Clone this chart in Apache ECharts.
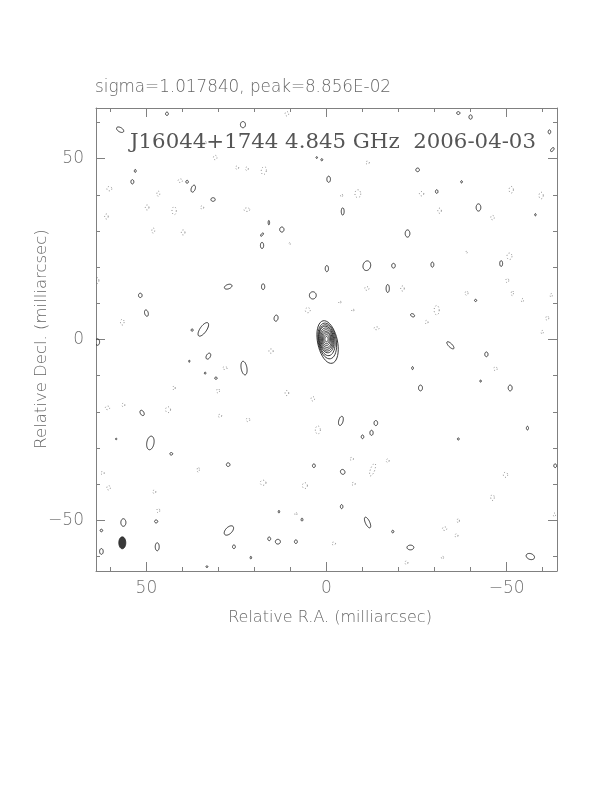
<!DOCTYPE html>
<html><head><meta charset="utf-8">
<script src="https://cdn.jsdelivr.net/npm/echarts@6/dist/echarts.min.js"></script>
<style>html,body{margin:0;padding:0;background:#fff}#c{width:612px;height:792px}</style>
</head><body><div id="c"></div>
<script>
const headerText = 'sigma=1.017840, peak=8.856E-02';
const titleText = 'J16044+1744 4.845 GHz  2006-04-03';
const xName = 'Relative R.A. (milliarcsec)';
const yName = 'Relative Decl. (milliarcsec)';
const axisRange = [-64, 64];
const minorTicks = [-60,-50,-40,-30,-20,-10,0,10,20,30,40,50,60];
const majorTicks = [-50,0,50];
const tickLabels = [-50,0,50];

// [x (mas), y (mas), semi-axis x (mas), semi-axis y (mas), tilt (deg)]
const coreContours = [
 [-0.3,-0.7,2.75,6.0,-12],[-0.2,-0.4,2.5,5.0,-10],[-0.1,-0.2,2.25,4.3,-8],
 [0,0,2.05,3.7,-8],[0,0,1.85,3.2,-6],[0,0,1.6,2.7,-5],[0,0,1.35,2.2,-5],
 [0,0.1,1.1,1.75,0],[0,0.1,0.8,1.25,0],[0,0.1,0.45,0.75,0]
];
const positiveContours = [
 [57.3,58.0,1.1,0.6,30],[44.3,62.4,0.4,0.45,0],[23.2,59.4,0.7,0.85,0],[53.1,46.6,0.25,0.4,0],
 [53.9,43.6,0.4,0.6,0],[38.7,43.6,0.35,0.4,0],[37.0,41.7,0.55,1.0,20],[31.5,38.7,0.6,0.5,0],
 [16.0,32.3,0.2,0.6,0],[12.4,30.4,0.6,0.7,0],[17.9,29.0,0.25,0.55,40],[17.9,26.0,0.45,0.85,0],
 [-0.1,19.6,0.45,0.85,0],[27.3,14.6,1.1,0.6,-20],[17.6,14.6,0.45,0.8,0],[51.7,12.2,0.5,0.6,0],
 [3.8,12.2,0.95,1.0,0],[50.0,7.3,0.5,0.9,-15],[14.0,5.9,0.55,0.85,10],[34.2,2.8,0.9,2.2,35],
 [37.3,2.6,0.3,0.3,0],[-0.6,44.3,0.5,0.85,0],[2.7,50.3,0.2,0.25,0],[1.3,49.7,0.25,0.3,0],
 [-36.6,62.6,0.45,0.4,0],[-40.0,61.5,0.45,0.6,0],[-61.9,57.4,0.35,0.55,0],[-62.7,52.5,0.35,0.65,40],
 [-25.3,46.9,0.5,0.5,0],[-37.5,43.6,0.25,0.3,0],[-30.6,40.9,0.35,0.5,0],[-4.5,35.4,0.4,1.0,0],
 [-42.2,36.5,0.65,1.0,0],[-58.0,34.5,0.2,0.3,0],[-22.5,29.3,0.65,1.0,0],[-11.2,20.4,1.05,1.35,15],
 [-18.6,20.4,0.5,0.65,0],[-29.4,20.7,0.4,0.7,0],[-48.5,21.0,0.4,0.8,0],[-17.0,14.1,0.45,1.1,0],
 [-41.4,10.8,0.3,0.3,0],[-23.9,6.7,0.6,0.4,30],[63.6,-0.7,0.6,0.9,0],[32.8,-4.6,0.55,0.9,30],
 [38.1,-6.0,0.15,0.3,0],[22.9,-7.9,0.8,1.9,-10],[33.7,-9.3,0.2,0.3,0],[30.7,-10.7,0.35,0.3,0],
 [51.2,-20.3,0.5,0.8,-30],[48.9,-28.6,1.0,1.9,10],[43.1,-31.6,0.4,0.35,0],[27.3,-34.6,0.5,0.5,0],
 [3.5,-34.9,0.4,0.5,0],[58.4,-27.5,0.2,0.2,0],[13.2,-47.6,0.2,0.35,0],[6.8,-49.8,0.25,0.4,0],
 [56.4,-50.6,0.7,1.05,0],[47.3,-50.3,0.45,0.4,0],[62.5,-52.8,0.35,0.35,0],[47.0,-57.3,0.55,1.1,0],
 [62.5,-58.6,0.5,0.8,0],[27.1,-52.8,0.9,1.6,45],[25.7,-57.3,0.4,0.5,0],[15.9,-55.1,0.4,0.5,0],
 [13.5,-55.9,0.7,0.65,0],[8.5,-55.9,0.4,0.5,0],[21.0,-60.3,0.2,0.35,0],[33.2,-62.8,0.25,0.25,0],
 [-34.4,-1.6,0.5,1.3,-45],[-44.4,-4.1,0.45,0.65,0],[-23.9,-7.9,0.25,0.4,0],[-42.8,-11.5,0.2,0.3,0],
 [-26.1,-13.4,0.55,0.8,0],[-51.0,-13.4,0.55,0.8,0],[-4.0,-22.5,0.6,1.3,15],[-13.7,-23.1,0.5,0.7,0],
 [-12.5,-25.8,0.45,0.7,0],[-10.0,-26.9,0.35,0.5,0],[-36.6,-27.5,0.25,0.3,0],[-55.8,-24.5,0.3,0.5,0],
 [-63.5,-34.9,0.4,0.5,0],[-4.5,-36.6,0.6,0.7,-30],[-4.2,-46.2,0.35,0.55,0],[-11.4,-50.6,0.6,1.6,-25],
 [-18.4,-53.1,0.3,0.35,0],[-23.3,-57.5,0.95,0.65,0],[-56.6,-60.0,1.2,0.8,20]
];
const negativeContours = [
 [30.9,50.3,0.5,0.6,0],[24.8,47.5,0.4,0.5,0],[22.1,47.2,0.4,0.5,0],[17.4,46.7,0.7,1.1,10],
 [60.3,41.7,0.7,0.6,0],[40.6,43.9,0.6,0.5,0],[46.7,40.3,0.4,0.7,0],[49.8,36.5,0.5,0.7,0],
 [42.3,35.6,0.6,1.1,0],[34.5,36.5,0.4,0.5,0],[22.1,35.9,0.8,0.5,0],[61.1,34.0,0.5,0.7,0],
 [48.1,30.1,0.4,0.7,0],[39.8,29.6,0.5,0.7,0],[10.2,26.5,0.2,0.3,0],[63.6,16.3,0.4,0.8,0],
 [5.2,8.1,0.7,0.7,0],[56.7,4.8,0.5,0.8,0],[11.0,62.4,0.5,0.6,0],[33.7,54.4,0.3,0.4,0],
 [-11.4,48.9,0.5,0.4,0],[-8.7,40.3,0.8,1.1,0],[-4.2,39.8,0.3,0.4,0],[-26.4,40.3,0.6,0.6,0],
 [-31.4,35.6,0.5,0.7,0],[-51.3,41.4,0.6,0.9,0],[-59.6,39.8,0.6,0.9,0],[-46.1,33.7,0.5,0.6,0],
 [-50.8,23.0,0.7,0.9,0],[-50.2,16.3,0.4,0.6,0],[-51.6,12.8,0.3,0.7,0],[-54.4,10.8,0.3,0.5,0],
 [-38.9,12.8,0.4,0.6,0],[-11.2,14.1,0.6,0.5,0],[-21.1,14.1,0.5,0.7,0],[-30.6,8.1,0.7,1.3,0],
 [-27.8,4.8,0.4,0.5,0],[-13.9,3.1,0.7,0.4,0],[-61.3,5.9,0.4,0.6,0],[-62.4,12.2,0.3,0.5,0],
 [-59.9,2.0,0.3,0.5,0],[-7.3,8.1,0.3,0.4,0],[-3.7,10.3,0.3,0.4,0],[-38.9,24.1,0.2,0.3,0],
 [15.4,-3.2,0.6,0.6,0],[28.2,-7.9,0.6,0.4,0],[30.1,-14.2,0.4,0.6,0],[11.0,-14.8,0.5,0.7,0],
 [3.8,-16.4,0.5,0.6,0],[60.8,-18.9,0.6,0.5,0],[56.4,-18.1,0.4,0.5,0],[44.0,-19.4,0.7,0.8,0],
 [29.6,-21.1,0.5,0.4,0],[21.8,-22.2,0.5,0.5,0],[2.4,-25.0,0.7,1.1,0],[42.3,-13.4,0.3,0.6,0],
 [35.6,-36.0,0.3,0.7,0],[62.2,-36.9,0.5,0.4,0],[60.5,-41.0,0.5,0.6,0],[47.8,-42.1,0.4,0.5,0],
 [17.6,-39.6,0.8,0.7,0],[6.0,-40.4,0.7,0.8,0],[46.7,-47.3,0.4,0.6,0],[8.5,-48.2,0.3,0.4,0],
 [-46.9,-8.1,0.5,0.5,0],[-7.0,-33.0,0.5,0.4,0],[-12.8,-36.0,0.6,1.8,20],[-17.0,-33.5,0.4,0.5,0],
 [-7.5,-39.9,0.5,0.4,0],[-49.7,-37.4,0.6,0.7,0],[-46.1,-43.7,0.5,0.8,0],[-36.6,-50.1,0.3,0.6,0],
 [-32.8,-52.3,0.6,0.5,0],[-36.1,-54.2,0.4,0.5,0],[-2.0,-56.4,0.5,0.4,0],[-32.2,-60.3,0.3,0.4,0],
 [-22.2,-61.7,0.4,0.5,0],[-63.3,-48.5,0.3,0.5,0]
];
const beamEllipse = [[56.7,-56.2,0.97,1.65,0]];

const styles = {
  pos: {fill:'none', stroke:'#222', lineWidth:0.9},
  core: {fill:'none', stroke:'#222', lineWidth:0.9},
  neg: {fill:'none', stroke:'#666', lineWidth:0.8, lineDash:[1,2.2]},
  beam: {fill:'#3a3a3a', stroke:'#222', lineWidth:0.8}
};
function ellipseRenderer(kind){
  return function(params, api){
    const c = api.coord([api.value(0), api.value(1)]);
    const s = api.size([api.value(2), api.value(3)]);
    const w = Math.abs(s[0]), h = Math.abs(s[1]);
    const phi = api.value(4) * Math.PI / 180;
    const pts = [];
    const n = 40;
    for (let i = 0; i < n; i++) {
      const t = i / n * 2 * Math.PI;
      const x = w * Math.cos(t), y = h * Math.sin(t);
      pts.push([c[0] + x*Math.cos(phi) - y*Math.sin(phi), c[1] + x*Math.sin(phi) + y*Math.cos(phi)]);
    }
    return {type:'polygon', shape:{points:pts}, style: styles[kind]};
  };
}
const frameColor = '#808080';
const labelColor = '#707070';
const fontFam = '"DejaVu Sans", sans-serif';
function mkAxis(dim, position, ticks, len, showLabel, showLine){
  return {
    type:'value', gridIndex:0, position: position, min: axisRange[0], max: axisRange[1],
    inverse: dim === 'x',
    axisLine:{show: showLine, onZero:false, lineStyle:{color:frameColor, width:1}},
    axisTick:{show:true, inside:true, length:len, customValues: ticks, lineStyle:{color:frameColor, width:1}},
    axisLabel:{show: showLabel, customValues: tickLabels, color: labelColor, fontSize:17,
      fontFamily: fontFam, fontWeight: 200, margin: dim === 'x' ? 9 : 12,
      formatter: v => (v < 0 ? '\u2212' + Math.abs(v) : String(v))},
    splitLine:{show:false}
  };
}
const chart = echarts.init(document.getElementById('c'), null, {renderer:'canvas'});
chart.setOption({
  animation:false,
  backgroundColor:'#fff',
  grid:{left:96, top:108, width:461, height:463},
  xAxis:[
    mkAxis('x','bottom',minorTicks,4,false,true),
    mkAxis('x','bottom',majorTicks,9,true,false),
    mkAxis('x','top',minorTicks,4,false,true),
    mkAxis('x','top',majorTicks,9,false,false)
  ],
  yAxis:[
    mkAxis('y','left',minorTicks,4,false,true),
    mkAxis('y','left',majorTicks,9,true,false),
    mkAxis('y','right',minorTicks,4,false,true),
    mkAxis('y','right',majorTicks,9,false,false)
  ],
  graphic:[
    {type:'text', left:95, top:79, style:{text:headerText, fill:'#666', font:'200 16.8px "DejaVu Sans", sans-serif'}},
    {type:'text', left:130, top:132, style:{text:titleText, fill:'#555', font:'21.3px "DejaVu Serif", serif'}},
    {type:'text', x:330, y:618, style:{text:xName, fill:'#666', font:'200 16px "DejaVu Sans", sans-serif', align:'center', verticalAlign:'middle'}},
    {type:'text', x:42, y:339, rotation:Math.PI/2, style:{text:yName, fill:'#666', font:'200 16.5px "DejaVu Sans", sans-serif', align:'center', verticalAlign:'middle'}}
  ],
  series:[
    {type:'custom', name:'negative', xAxisIndex:0, yAxisIndex:0, clip:true, silent:true, renderItem:ellipseRenderer('neg'), data:negativeContours, encode:{x:0,y:1}},
    {type:'custom', name:'positive', xAxisIndex:0, yAxisIndex:0, clip:true, silent:true, renderItem:ellipseRenderer('pos'), data:positiveContours, encode:{x:0,y:1}},
    {type:'custom', name:'core', xAxisIndex:0, yAxisIndex:0, clip:true, silent:true, renderItem:ellipseRenderer('core'), data:coreContours, encode:{x:0,y:1}},
    {type:'custom', name:'beam', xAxisIndex:0, yAxisIndex:0, clip:true, silent:true, renderItem:ellipseRenderer('beam'), data:beamEllipse, encode:{x:0,y:1}}
  ]
});
</script></body></html>
